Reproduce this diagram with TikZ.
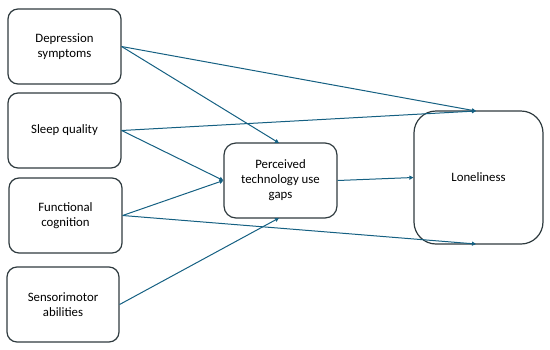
\documentclass[tikz,border=0pt]{standalone}
\usepackage{fontspec}
\setmainfont{Carlito}
\usetikzlibrary{arrows.meta}
\definecolor{arrowc}{HTML}{156082}
\definecolor{boxc}{HTML}{2F3B3F}
\begin{document}
\begin{tikzpicture}[x=1pt,y=-1pt,
  box/.style={draw=boxc,line width=1.2pt,rounded corners=10pt,minimum width=113pt,minimum height=75pt,align=center,inner sep=2pt,
    font=\fontsize{12.8}{15}\selectfont},
  conn/.style={draw=arrowc,line width=1pt,-{Triangle[length=4pt,width=4pt]}}]
\useasboundingbox (0,0) rectangle (550,349);
\node[box] (dep) at (64.5,46.5) {Depression\\symptoms};
\node[box] (sleep) at (64.5,130.5) {Sleep quality};
\node[box] (func) at (65.5,215.5) {Functional\\cognition};
\node[box,minimum width=112pt] (sens) at (63,304.5) {Sensorimotor\\abilities};
\node[box,rounded corners=12pt] (mid) at (280.5,180.5) {Perceived\\technology use\\gaps};
\node[box,rounded corners=22pt,minimum width=129pt,minimum height=133pt] (lone) at (478.5,177.5) {Loneliness};
\coordinate (ltop) at (476,111);
\coordinate (lbot) at (476,244);
\coordinate (mtop) at (279,143);
\coordinate (mbot) at (279,218);
\draw[conn] (dep.east) -- (ltop);
\draw[conn] (dep.east) -- (mtop);
\draw[conn] (sleep.east) -- (ltop);
\draw[conn] (sleep.east) -- (mid.west);
\draw[conn] (func.east) -- (mid.west);
\draw[conn] (func.east) -- (lbot);
\draw[conn] (sens.east) -- (mbot);
\draw[conn] (mid.east) -- (lone.west);
\end{tikzpicture}
\end{document}
